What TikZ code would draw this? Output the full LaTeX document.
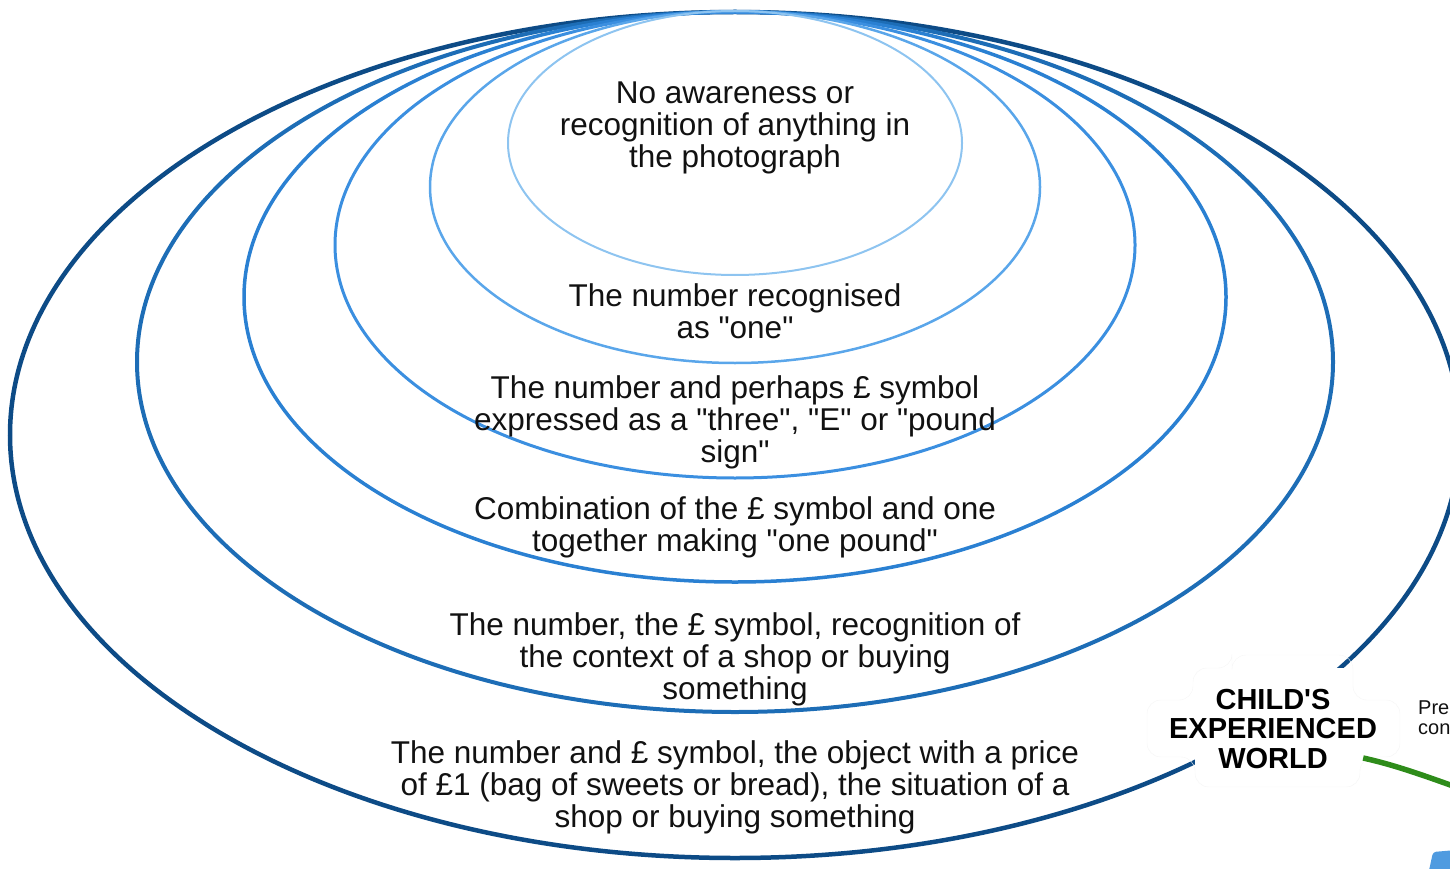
\documentclass[tikz,border=0pt]{standalone}
\usepackage{fontspec}
\setmainfont{Liberation Sans}
\definecolor{ringA}{HTML}{8EC4F0}
\definecolor{ringB}{HTML}{5AA6EA}
\definecolor{ringC}{HTML}{3B8FE0}
\definecolor{ringD}{HTML}{2A80D2}
\definecolor{ringE}{HTML}{1D6DB6}
\definecolor{ringF}{HTML}{0D4B86}
\definecolor{branchgreen}{HTML}{2E8C1A}
\definecolor{iconblue}{HTML}{4F9BE0}
\definecolor{txt}{HTML}{111111}
\newcommand{\dq}{\textquotedbl}
\tikzset{
  ring/.style={line width=#1},
  lvltext/.style={align=center, text=txt, inner sep=0pt,
    font=\fontsize{31.5}{32}\selectfont},
  worldtext/.style={align=center, inner sep=0pt, text=black,
    font=\bfseries\fontsize{29}{29.5}\selectfont},
  worldbg/.style={fill=white, draw=black!4, rounded corners=14pt},
  sidetext/.style={align=left, anchor=west, inner sep=0pt, text=txt,
    font=\fontsize{20}{20}\selectfont},
  branch/.style={draw=branchgreen, line width=5.5pt}
}
\begin{document}
\begin{tikzpicture}[x=1pt,y=-1pt]
\useasboundingbox (0,0) rectangle (1450,869);
% nested rings (outermost first)
\draw[ring=4.5pt, draw=ringF] (735,435) ellipse [x radius=725, y radius=423];
\draw[ring=4pt, draw=ringE] (735,362) ellipse [x radius=598, y radius=350];
\draw[ring=3.5pt, draw=ringD] (735,297) ellipse [x radius=491, y radius=285];
\draw[ring=3pt, draw=ringC] (735,245) ellipse [x radius=400, y radius=233];
\draw[ring=2.5pt, draw=ringB] (735,187) ellipse [x radius=305, y radius=176];
\draw[ring=2pt, draw=ringA] (735,143) ellipse [x radius=227, y radius=132];
% level texts
\node[lvltext] (t1) at (735,128) {No awareness or\\recognition of anything in\\the photograph};
\node[lvltext] (t2) at (735,311) {The number recognised\\as \dq one\dq};
\node[lvltext] (t3) at (735,422) {The number and perhaps £ symbol\\expressed as a \dq three\dq, \dq E\dq{} or \dq pound\\sign\dq};
\node[lvltext] (t4) at (735,527) {Combination of the £ symbol and one\\together making \dq one pound\dq};
\node[lvltext] (t5) at (735,659) {The number, the £ symbol, recognition of\\the context of a shop or buying\\something};
\node[lvltext] (t6) at (735,787) {The number and £ symbol, the object with a price\\of £1 (bag of sweets or bread), the situation of a\\shop or buying something};
% central topic background (cross-like cloud)
\fill[white] (1195,668) rectangle (1360,787);
\fill[white] (1147,700) rectangle (1400,757);
\draw[black!4, rounded corners=14pt] (1232,655) -- (1353,655) -- (1353,700) -- (1400,700) -- (1400,757)
  -- (1360,757) -- (1360,787) -- (1195,787) -- (1195,757) -- (1147,757) -- (1147,700) -- (1193,700)
  -- (1193,668) -- (1232,668) -- cycle;
\node[worldtext] (world) at (1273,729) {CHILD\textquotesingle S\\EXPERIENCED\\WORLD};
\coordinate (gy) at (0,758);
\coordinate (gend) at (1456,787);
\draw[branch] ([xshift=-14pt]world.east |- gy) .. controls (1395,765) and (1425,776) .. (gend);
\node[sidetext] (side) at (1418,718) {Pre\\con};
\fill[iconblue, rounded corners=3pt] (1433,852) -- (1456,850) -- (1456,875) -- (1428,875) -- cycle;
\end{tikzpicture}
\end{document}
